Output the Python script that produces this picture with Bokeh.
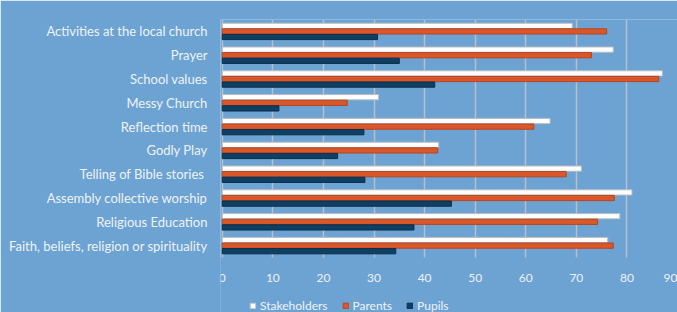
from bokeh.plotting import figure
from bokeh.models import (ColumnDataSource, Range1d, Legend, LegendItem, FixedTicker,
                          BoxAnnotation)
from bokeh.transform import dodge
from bokeh.embed import file_html
from bokeh.resources import INLINE

categories = [
    "Activities at the local church",
    "Prayer",
    "School values",
    "Messy Church",
    "Reflection time",
    "Godly Play",
    "Telling of Bible stories ",
    "Assembly collective worship",
    "Religious Education",
    "Faith, beliefs, religion or spirituality",
]
stakeholders = [69.2, 77.3, 87.0, 30.9, 64.8, 42.8, 71.0, 81.0, 78.6, 76.2]
parents = [76.0, 73.0, 86.3, 24.7, 61.6, 42.6, 68.0, 77.5, 74.2, 77.3]
pupils = [30.7, 35.0, 42.0, 11.2, 28.0, 22.8, 28.2, 45.3, 37.9, 34.3]
x_ticks = [0, 10, 20, 30, 40, 50, 60, 70, 80, 90]

BG = "#6DA3D2"
TXT = "#EEF2F7"
FONT = "Lato"

n = len(categories)
pos = [n - 1 - i for i in range(n)]  # first category on top
src = ColumnDataSource(dict(cat=categories, pos=pos, s=stakeholders, p=parents, u=pupils))

p = figure(
    y_range=Range1d(-2.81, n - 0.5),
    x_range=Range1d(-0.35, 90),
    width=677, height=312,
    frame_width=457, frame_height=293,
    min_border_left=220, min_border_right=0, min_border_top=19, min_border_bottom=0,
    output_backend="svg", toolbar_location=None,
    background_fill_color=BG, border_fill_color=BG, outline_line_color=None,
)

# grid
p.ygrid.grid_line_color = None
p.xgrid.grid_line_color = "#B7BFC8"
p.xgrid.grid_line_width = 1.5
p.xgrid.ticker = FixedTicker(ticks=x_ticks)

# hide grid below the category area
p.add_layout(BoxAnnotation(left=-5, right=95, top=-0.5, bottom=-5,
                           fill_color=BG, fill_alpha=1, line_color=None, level="glyph"))

h = 0.22
r_s = p.hbar(y=dodge("pos", 0.235), right="s", left=0, height=h, source=src,
             fill_color="#FFFFFF", line_color="#B8BCC2", line_width=1)
r_p = p.hbar(y=dodge("pos", 0.0), right="p", left=0, height=h, source=src,
             fill_color="#D9572B", line_color="#B8461F", line_width=1)
r_u = p.hbar(y=dodge("pos", -0.235), right="u", left=0, height=h, source=src,
             fill_color="#0F3F63", line_color="#0A2E4A", line_width=1)

xa = p.xaxis[0]
xa.fixed_location = -0.5
xa.ticker = FixedTicker(ticks=x_ticks)
xa.axis_line_color = None
xa.major_tick_line_color = None
xa.minor_tick_line_color = None
xa.major_tick_out = 0
xa.major_tick_in = 0
xa.major_label_standoff = 16
xa.major_label_text_color = TXT
xa.major_label_text_font = FONT
xa.major_label_text_font_size = "12px"

ya = p.yaxis[0]
ya.ticker = FixedTicker(ticks=pos)
ya.major_label_overrides = {k: c for k, c in zip(pos, categories)}
ya.axis_line_color = None
ya.major_tick_line_color = None
ya.minor_tick_line_color = None
ya.major_tick_out = 0
ya.major_tick_in = 0
ya.major_label_standoff = 13
ya.major_label_text_color = TXT
ya.major_label_text_font = FONT
ya.major_label_text_font_size = "13px"

legend = Legend(
    items=[LegendItem(label="Stakeholders", renderers=[r_s]),
           LegendItem(label="Parents", renderers=[r_p]),
           LegendItem(label="Pupils", renderers=[r_u])],
    orientation="horizontal", location=(29, -1),
    background_fill_alpha=0, border_line_color=None,
    glyph_width=7, glyph_height=7, label_height=14, label_standoff=4, spacing=14,
    padding=0, margin=0,
    label_text_color=TXT, label_text_font=FONT, label_text_font_size="12px",
)
p.add_layout(legend, "center")

open("out.html", "w").write(file_html(p, INLINE))
